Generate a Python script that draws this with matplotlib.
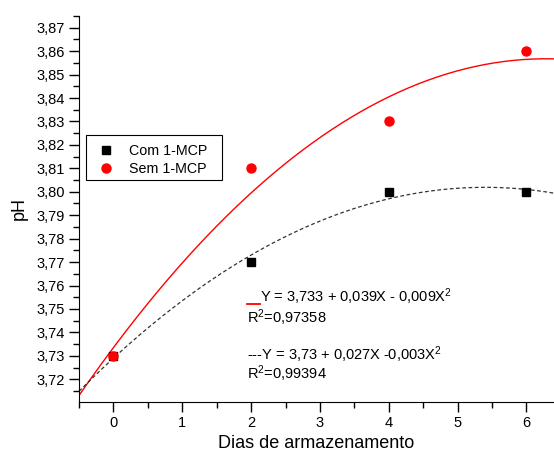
import numpy as np
import matplotlib
matplotlib.use("Agg")
import matplotlib.pyplot as plt
from matplotlib.ticker import MultipleLocator, FuncFormatter
from matplotlib.lines import Line2D
from matplotlib.patches import Rectangle

plt.rcParams['font.family'] = ['Liberation Sans', 'DejaVu Sans']
plt.rcParams['mathtext.default'] = 'regular'

# ---- data ----
dias = [0, 2, 4, 6]
com_mcp = [3.73, 3.77, 3.80, 3.80]
sem_mcp = [3.73, 3.81, 3.83, 3.86]

eq_sem = "Y = 3,733 + 0,039X - 0,009X$^2$"
r2_sem = "R$^2$=0,97358"
eq_com = "---Y = 3,73 + 0,027X -0,003X$^2$"
r2_com = "R$^2$=0,99394"

# quadratic fits (same as the regression shown in the chart)
xx = np.linspace(-0.5, 6.4, 200)
fit_sem = np.polyval(np.polyfit(dias, sem_mcp, 2), xx)
fit_com = np.polyval(np.polyfit(dias, com_mcp, 2), xx)

fig = plt.figure(figsize=(5.54, 4.54), dpi=100)
ax = fig.add_axes([79 / 554, 52 / 454, 475 / 554, 386 / 454])

ax.plot(xx, fit_sem, color='red', lw=1.0)
ax.plot(xx, fit_com, color='#333333', lw=0.9, ls=(0, (3, 2)))
ax.plot(dias, com_mcp, ls='none', marker='s', ms=6, color='black', label='Com 1-MCP')
ax.plot(dias, sem_mcp, ls='none', marker='o', ms=6.5, color='red', label='Sem 1-MCP')

ax.set_xlim(-0.5, 6.4)
ax.set_ylim(3.7103, 3.875)
ax.spines['top'].set_visible(False)
ax.spines['right'].set_visible(False)

ax.xaxis.set_major_locator(MultipleLocator(1))
ax.xaxis.set_minor_locator(MultipleLocator(0.5))
ax.yaxis.set_major_locator(MultipleLocator(0.01))
ax.yaxis.set_minor_locator(MultipleLocator(0.005))
ax.yaxis.set_major_formatter(FuncFormatter(lambda v, p: f"{v:.2f}".replace('.', ',')))
ax.tick_params(which='major', direction='out', length=7, width=1, labelsize=10.5, pad=3)
ax.tick_params(which='minor', direction='out', length=4, width=1)

ax.set_xlabel("Dias de armazenamento", fontsize=13, labelpad=4)
ax.set_ylabel("pH", fontsize=13, labelpad=6)

# legend without its own frame, box drawn separately
ax.legend(loc='upper left', bbox_to_anchor=(0.0387, 0.6684), borderaxespad=0,
          frameon=False, fontsize=10.3, handlelength=1.2, handletextpad=1.0,
          borderpad=0, labelspacing=0.25)
ax.add_patch(Rectangle((0.0147, 0.5751), 0.2863, 0.1166, transform=ax.transAxes,
                       fill=False, edgecolor='black', lw=0.8, zorder=5))

# equation annotations
fs = 10.5
fig.text(260 / 554, 1 - 297 / 454, eq_sem, fontsize=fs, va='center')
fig.text(247 / 554, 1 - 318 / 454, r2_sem, fontsize=fs, va='center')
fig.text(247 / 554, 1 - 355 / 454, eq_com, fontsize=fs, va='center')
fig.text(247 / 554, 1 - 374 / 454, r2_com, fontsize=fs, va='center')
fig.add_artist(Line2D([247 / 554, 260 / 554], [1 - 303.5 / 454, 1 - 303.5 / 454],
                      color='red', lw=1.3, transform=fig.transFigure))

fig.savefig("out.png", dpi=100)
